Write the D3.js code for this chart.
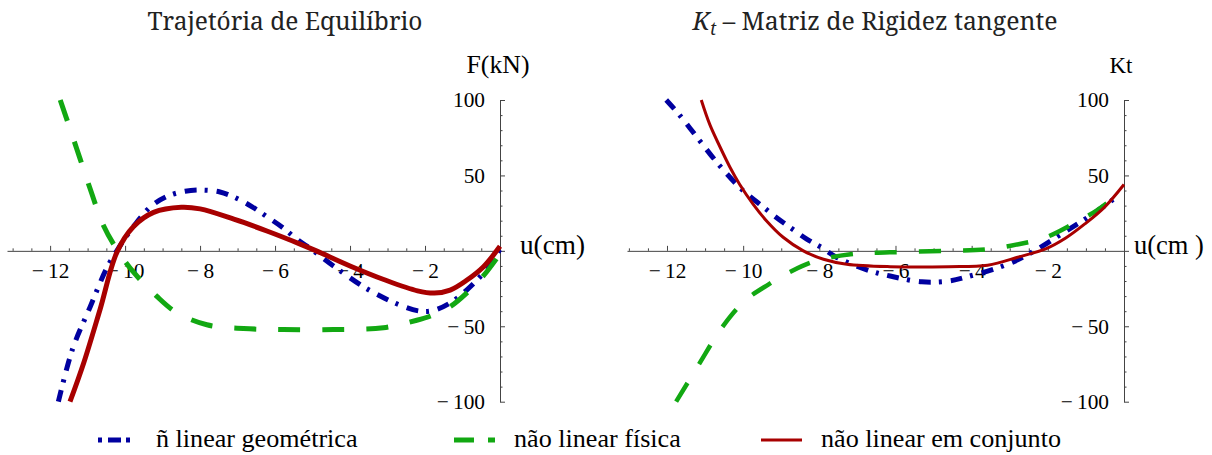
<!DOCTYPE html>
<html><head><meta charset="utf-8">
<script src="https://cdn.jsdelivr.net/npm/d3@7"></script>
<style>body{margin:0;background:#fff} svg{display:block}</style>
</head><body>
<svg id="c" width="1212" height="455"></svg>
<script>
// ---- data ----
const xTicks = [-12, -10, -8, -6, -4, -2];
const yTicks = [-100, -50, 50, 100];
const seriesNames = ["ñ linear geométrica", "não linear física", "não linear em conjunto"];
const titles = ["Trajetória de Equilíbrio", "– Matriz de Rigidez tangente"];

// Left: equilibrium path F(kN) vs u(cm)
const eqGeom = [[-11.78,-100],[-11.4,-65],[-10.93,-37],[-10.5,-12],[-10.22,0],[-9.78,16],[-9.33,29],[-8.89,36],[-8.4,39.5],[-7.95,40.3],[-7.47,39],[-7.0,34.5],[-6.6,29],[-6.18,22],[-5.8,15.5],[-5.42,7.8],[-5.0,0.5],[-4.44,-10],[-3.56,-25],[-2.67,-36],[-2.13,-40],[-1.78,-39.5],[-1.33,-34.5],[-0.89,-26],[-0.44,-14.5],[0,1]];
const eqFis = [[-11.73,100],[-11.47,81],[-11.2,61],[-10.93,41],[-10.58,17],[-10.22,1],[-9.78,-14],[-9.16,-30],[-8.62,-41],[-7.82,-49],[-6.84,-51.5],[-5.78,-52.2],[-4.44,-52.2],[-3.11,-51],[-2.22,-46],[-1.78,-42.5],[-1.33,-37],[-0.89,-28],[-0.44,-16.5],[0,-2]];
const eqConj = [[-11.47,-100],[-11.1,-74],[-10.67,-39],[-10.22,-1],[-9.78,16],[-9.24,25.5],[-8.5,28.9],[-8,27.8],[-7.1,21],[-6.2,13],[-5.33,4.5],[-4.9,0],[-4,-10],[-3.1,-19],[-2.2,-26.5],[-1.75,-28],[-1.33,-26],[-0.89,-19.5],[-0.44,-10.5],[0,3]];

// Right: tangent stiffness Kt vs u(cm)
const ktGeom = [[-12.02,100],[-11.67,90],[-11.14,73],[-10.83,63],[-10.53,54],[-10.05,41],[-9.47,29],[-9.12,22],[-8.77,15.6],[-8.33,7.8],[-7.94,2.2],[-7.54,-4.4],[-6.67,-13.3],[-6.14,-16.7],[-5.31,-20.5],[-4.6,-20],[-4.09,-17],[-3.07,-9],[-2.35,0],[-1.53,13],[-0.82,24.4],[-0.2,35.6]];
const ktFis = [[-11.76,-100],[-11.17,-75.6],[-10.56,-51],[-9.95,-33],[-9.33,-22.2],[-8.72,-13.3],[-8.1,-6.7],[-7.18,-2.2],[-6.15,-1],[-4.62,0],[-3.59,1],[-2.77,4.4],[-2.05,9],[-1.33,18],[-0.72,26.7],[-0.3,34.4],[-0.1,37.8]];
const ktConj = [[-11.1,100],[-10.88,84],[-10.61,69],[-10.35,55.6],[-10.09,44],[-9.74,31],[-9.39,20],[-8.95,9],[-8.42,0],[-7.89,-5.6],[-7.28,-8.9],[-6.14,-10.5],[-4.6,-10.5],[-3.58,-9.5],[-2.76,-4],[-2.04,1.5],[-1.53,8.5],[-1.02,18],[-0.51,29],[0,44]];

// ---- styles ----
const serif = '"Liberation Serif"';
const titleFont = '"Noto Serif"';
const colors = ["#0000a0", "#12a812", "#a80000"];
const dashes = ["12,8,3,9", "22,22", null];

// warm up fonts (canvas)
const _ctx = document.createElement("canvas").getContext("2d");
[serif, titleFont].forEach(f => { _ctx.font = `30px ${f}, monospace`; _ctx.measureText("ñ linear 100"); });

const svg = d3.select("#c").style("font-family", serif);

function txt(parent, family, size) {
  return parent.append("text").style("font-family", family).style("font-size", size + "px");
}
function fitSize(sel, target) {
  const fs = parseFloat(sel.style("font-size"));
  const w = sel.node().getComputedTextLength();
  const nf = w > 0 ? fs * target / w : fs;
  sel.style("font-size", nf.toFixed(2) + "px");
  return nf;
}

const probe = txt(svg, serif, 20).text("100");
const tickFS = fitSize(probe, 32);
probe.remove();

function fmt(d) { return d < 0 ? "\u2212\u2009" + (-d) : String(d); }

function panel(opts) {
  const x = d3.scaleLinear().domain(opts.xDomain).range(opts.xRange);
  const y = d3.scaleLinear().domain([-100, 100]).range([opts.yBottom, opts.yTop]);
  const g = svg.append("g");

  const minor = d3.range(-13, 0.01, 0.5).filter(v => v >= opts.xDomain[0] && v % 2 !== 0);
  g.append("g").attr("transform", `translate(0,${y(0)})`)
    .call(d3.axisBottom(x).tickValues(minor).tickFormat("").tickSizeInner(-2.5).tickSizeOuter(0))
    .call(s => s.select(".domain").remove());
  const xa = g.append("g").attr("transform", `translate(0,${y(0)})`)
    .call(d3.axisBottom(x).tickValues(xTicks.concat([0])).tickFormat(d => d === 0 ? "" : fmt(d)).tickSizeInner(-5).tickSizeOuter(0).tickPadding(12));
  xa.attr("font-family", null).attr("font-size", null);
  xa.selectAll("text").style("font-family", serif).style("font-size", tickFS + "px").attr("fill", "#000");

  const yMinor = d3.range(-100, 100.1, 10).filter(v => v % 50 !== 0);
  g.append("g").attr("transform", `translate(${x(0)},0)`)
    .call(d3.axisLeft(y).tickValues(yMinor).tickFormat("").tickSizeInner(-2.5).tickSizeOuter(0))
    .call(s => s.select(".domain").remove());
  const ya = g.append("g").attr("transform", `translate(${x(0)},0)`)
    .call(d3.axisLeft(y).tickValues(yTicks.concat([0])).tickFormat(d => d === 0 ? "" : fmt(d)).tickSizeInner(-5).tickSizeOuter(0).tickPadding(15));
  ya.attr("font-family", null).attr("font-size", null);
  ya.selectAll("text").style("font-family", serif).style("font-size", tickFS + "px").attr("fill", "#000");

  g.selectAll(".domain, .tick line").attr("stroke", "#444").attr("stroke-width", 1);

  const xl = txt(g, serif, 20).attr("x", x(0) + opts.xLabelDx).attr("y", y(0) + 3).text(opts.xLabel);
  fitSize(xl, opts.xLabelW);
  const yl = txt(g, serif, 20).attr("x", opts.yLabelX).attr("y", 73).attr("text-anchor", "middle").text(opts.yLabel);
  fitSize(yl, opts.yLabelW);

  const line = d3.line().x(d => x(d[0])).y(d => y(d[1])).curve(d3.curveCatmullRom.alpha(0.5));
  opts.series.forEach((s, i) => {
    g.append("path").datum(s).attr("d", line)
      .attr("fill", "none").attr("stroke", colors[i])
      .attr("stroke-width", opts.widths[i])
      .attr("stroke-dasharray", dashes[i])
      .attr("stroke-linejoin", "round");
  });
}

panel({ xDomain: [-13.15, 0], xRange: [7, 500], yTop: 100, yBottom: 401.7,
  series: [eqGeom, eqFis, eqConj], widths: [5, 5, 5],
  xLabel: "u(cm)", xLabelDx: 20, xLabelW: 65, yLabel: "F(kN)", yLabelX: 498, yLabelW: 63 });
panel({ xDomain: [-13.05, 0], xRange: [627, 1124], yTop: 100, yBottom: 401.7,
  series: [ktGeom, ktFis, ktConj], widths: [5, 4.5, 3],
  xLabel: "u(cm )", xLabelDx: 10, xLabelW: 70, yLabel: "Kt", yLabelX: 1121, yLabelW: 23 });

// titles
const t1 = txt(svg, titleFont, 22).attr("x", 285).attr("y", 30).attr("text-anchor", "middle")
  .attr("fill", "#222").text(titles[0]);
fitSize(t1, 275);
const t2 = txt(svg, titleFont, 22).attr("x", 875).attr("y", 30).attr("text-anchor", "middle").attr("fill", "#222");
t2.append("tspan").style("font-style", "italic").text("K");
t2.append("tspan").style("font-style", "italic").style("font-size", "0.7em").attr("dy", 5).text("t");
t2.append("tspan").attr("dy", -5).text(" " + titles[1]);
fitSize(t2, 365);

// legend
const legX = [98, 454, 761];
const legTextX = [156, 514, 821];
const legDash = ["4,6,13,5,4", "20,14", null];
const legW = [5, 5, 3];
const lp = txt(svg, serif, 22).text(seriesNames[2]);
const legFS = fitSize(lp, 240);
lp.remove();
seriesNames.forEach((n, i) => {
  svg.append("line").attr("x1", legX[i]).attr("x2", legX[i] + (i === 0 ? 33 : 41))
    .attr("y1", 440).attr("y2", 440).attr("stroke", colors[i]).attr("stroke-width", legW[i])
    .attr("stroke-dasharray", legDash[i]);
  txt(svg, serif, legFS).attr("x", legTextX[i]).attr("y", 447).text(n);
});
</script>
</body></html>
